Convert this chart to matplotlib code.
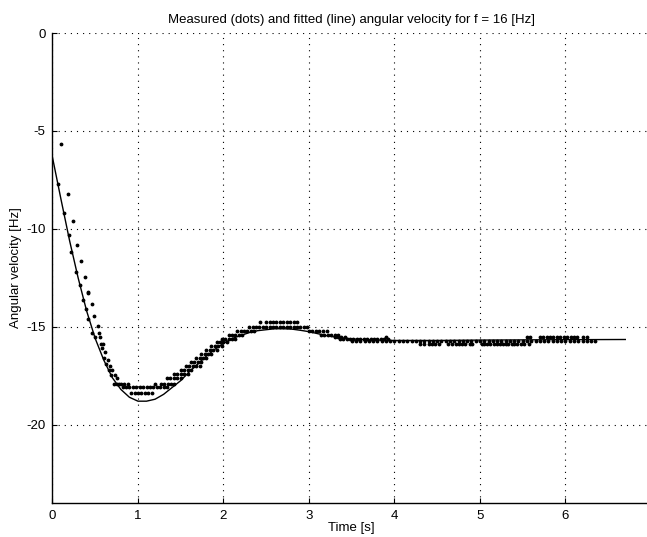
import matplotlib
matplotlib.use("Agg")
import matplotlib.pyplot as plt

# Fitted curve
fit_t = [0, 0.1, 0.2, 0.3, 0.4, 0.5, 0.6, 0.7, 0.8, 0.9, 1.0, 1.1, 1.2, 1.3,
         1.4, 1.5, 1.6, 1.7, 1.8, 1.9, 2.0, 2.1, 2.2, 2.3, 2.4, 2.5, 2.6, 2.7,
         2.8, 2.9, 3.0, 3.1, 3.2, 3.3, 3.4, 3.6, 3.8, 4.0, 4.5, 5.0, 5.5, 6.0, 6.7]
fit_v = [-6.35, -8.5, -10.6, -12.5, -14.2, -15.6, -16.7, -17.6, -18.2, -18.6,
         -18.8, -18.8, -18.7, -18.45, -18.1, -17.75, -17.3, -16.9, -16.5,
         -16.15, -15.85, -15.6, -15.45, -15.3, -15.2, -15.15, -15.1, -15.1,
         -15.12, -15.18, -15.25, -15.35, -15.45, -15.52, -15.58, -15.65,
         -15.68, -15.7, -15.7, -15.68, -15.67, -15.66, -15.65]

# Measured dots, first part (single samples)
early_t = [0.10, 0.07, 0.13, 0.18, 0.19, 0.22, 0.24, 0.27, 0.29, 0.32, 0.33,
           0.36, 0.38, 0.39, 0.41, 0.42, 0.42, 0.46, 0.46, 0.49, 0.50, 0.53,
           0.54, 0.56, 0.57, 0.58, 0.59, 0.60, 0.62, 0.63, 0.65, 0.66, 0.67,
           0.69, 0.70, 0.72, 0.73, 0.75, 0.76, 0.78]
early_v = [-5.65, -7.7, -9.2, -8.2, -10.3, -11.2, -9.6, -12.2, -10.8, -12.85,
           -11.65, -13.65, -12.45, -14.1, -13.2, -13.3, -14.6, -13.85, -15.3,
           -14.45, -15.5, -14.95, -15.3, -15.5, -15.9, -16.1, -15.9, -16.6,
           -16.3, -16.9, -16.7, -17.2, -17.0, -17.45, -17.2, -17.9, -17.45,
           -17.9, -17.6, -17.9]

# Measured dots, quantised levels and the times they occur at
strip_v = [-17.9, -18.1, -18.4, -17.9, -17.6, -17.4, -17.2, -17.0, -16.8,
           -16.6, -16.4, -16.2, -16.0, -15.8, -15.6, -15.4, -15.2, -15.0,
           -14.75, -15.2, -15.4, -15.5, -15.6, -15.75, -15.9, -15.5]
strip_t = [
    [0.80, 0.84, 0.88],
    [0.82, 0.86, 0.90, 0.94, 0.98, 1.02, 1.06, 1.10, 1.14, 1.18, 1.22, 1.26,
     1.30, 1.34],
    [0.92, 0.96, 1.00, 1.04, 1.08, 1.12, 1.16],
    [1.20, 1.27, 1.31, 1.35, 1.39, 1.42],
    [1.34, 1.38, 1.42, 1.46, 1.50],
    [1.42, 1.46, 1.50, 1.54, 1.58],
    [1.50, 1.54, 1.58, 1.62],
    [1.56, 1.60, 1.64, 1.68, 1.72],
    [1.62, 1.66, 1.70, 1.74],
    [1.68, 1.72, 1.76, 1.80],
    [1.74, 1.78, 1.82, 1.86],
    [1.80, 1.84, 1.88, 1.92],
    [1.86, 1.90, 1.94, 1.98],
    [1.92, 1.96, 2.00, 2.04],
    [1.98, 2.02, 2.06, 2.10, 2.14],
    [2.06, 2.10, 2.14, 2.18, 2.22],
    [2.16, 2.20, 2.24, 2.28, 2.32, 2.36],
    [2.30, 2.34, 2.38, 2.42, 2.46, 2.50, 2.54, 2.58, 2.62, 2.66, 2.70, 2.74,
     2.78, 2.82, 2.86, 2.90, 2.94, 2.98],
    [2.43, 2.50, 2.54, 2.58, 2.62, 2.66, 2.70, 2.74, 2.78, 2.82, 2.86],
    [3.00, 3.04, 3.08, 3.12, 3.16, 3.21],
    [3.14, 3.18, 3.22, 3.26, 3.30, 3.34],
    [3.30, 3.34, 3.38, 3.42, 3.90],
    [3.36, 3.40, 3.44, 3.48, 3.52, 3.56, 3.60, 3.64, 3.68, 3.72, 3.76, 3.80,
     3.84, 3.88, 3.92],
    [3.50, 3.55, 3.60, 3.65, 3.70, 3.75, 3.80, 3.85, 3.90, 3.95, 4.00, 4.05,
     4.10, 4.15, 4.20, 4.25, 4.30, 4.35, 4.40, 4.45, 4.50, 4.55, 4.60, 4.65,
     4.70, 4.75, 4.80, 4.85, 4.90, 4.95, 5.00, 5.05, 5.10, 5.15, 5.20, 5.25,
     5.30, 5.35, 5.40, 5.45, 5.50, 5.55, 5.60, 5.65, 5.70, 5.75, 5.80, 5.85,
     5.90, 5.95, 6.00, 6.05, 6.10, 6.15, 6.20, 6.25, 6.30, 6.35],
    [4.30, 4.34, 4.40, 4.44, 4.48, 4.52, 4.63, 4.67, 4.72, 4.76, 4.79, 4.82,
     4.88, 4.91, 5.02, 5.05, 5.08, 5.12, 5.16, 5.20, 5.23, 5.27, 5.30, 5.33,
     5.37, 5.40, 5.43, 5.48, 5.52, 5.57],
    [5.55, 5.59, 5.70, 5.74, 5.78, 5.82, 5.86, 5.90, 5.94, 5.98, 6.02, 6.06,
     6.10, 6.13, 6.20, 6.25],
]

x_ticks = [0, 1, 2, 3, 4, 5, 6, 7]
y_ticks = [-20, -15, -10, -5, 0]

plt.rcParams['font.family'] = ['Liberation Sans', 'DejaVu Sans']
plt.rcParams['axes.unicode_minus'] = False

meas_t = list(early_t)
meas_v = list(early_v)
for level, times in zip(strip_v, strip_t):
    meas_t += times
    meas_v += [level] * len(times)

fig = plt.figure(figsize=(6.47, 5.37), dpi=100)
ax = fig.add_axes([0.0811, 0.0633, 0.925, 0.8752])

ax.plot(meas_t, meas_v, '.', color='black', markersize=3.5)
ax.plot(fit_t, fit_v, '-', color='black', linewidth=1.0)

ax.set_xlim(0, 7)
ax.set_ylim(-24, 0)
ax.set_xticks(x_ticks)
ax.set_yticks(y_ticks)
ax.tick_params(direction='in', length=3.5, width=0.8, labelsize=9.5,
               top=False, right=False, pad=5)
ax.grid(True, color='black', linestyle=(0, (1, 4.5)), linewidth=0.8)
ax.spines['top'].set_visible(False)
ax.spines['right'].set_visible(False)
for s in ['left', 'bottom']:
    ax.spines[s].set_linewidth(1.0)

ax.set_title('Measured (dots) and fitted (line) angular velocity for f = 16 [Hz]',
             fontsize=9.5, pad=7)
ax.set_xlabel('Time [s]', fontsize=9.5, labelpad=0)
ax.set_ylabel('Angular velocity [Hz]', fontsize=9.5, labelpad=3)

fig.savefig('out.png', dpi=100)
